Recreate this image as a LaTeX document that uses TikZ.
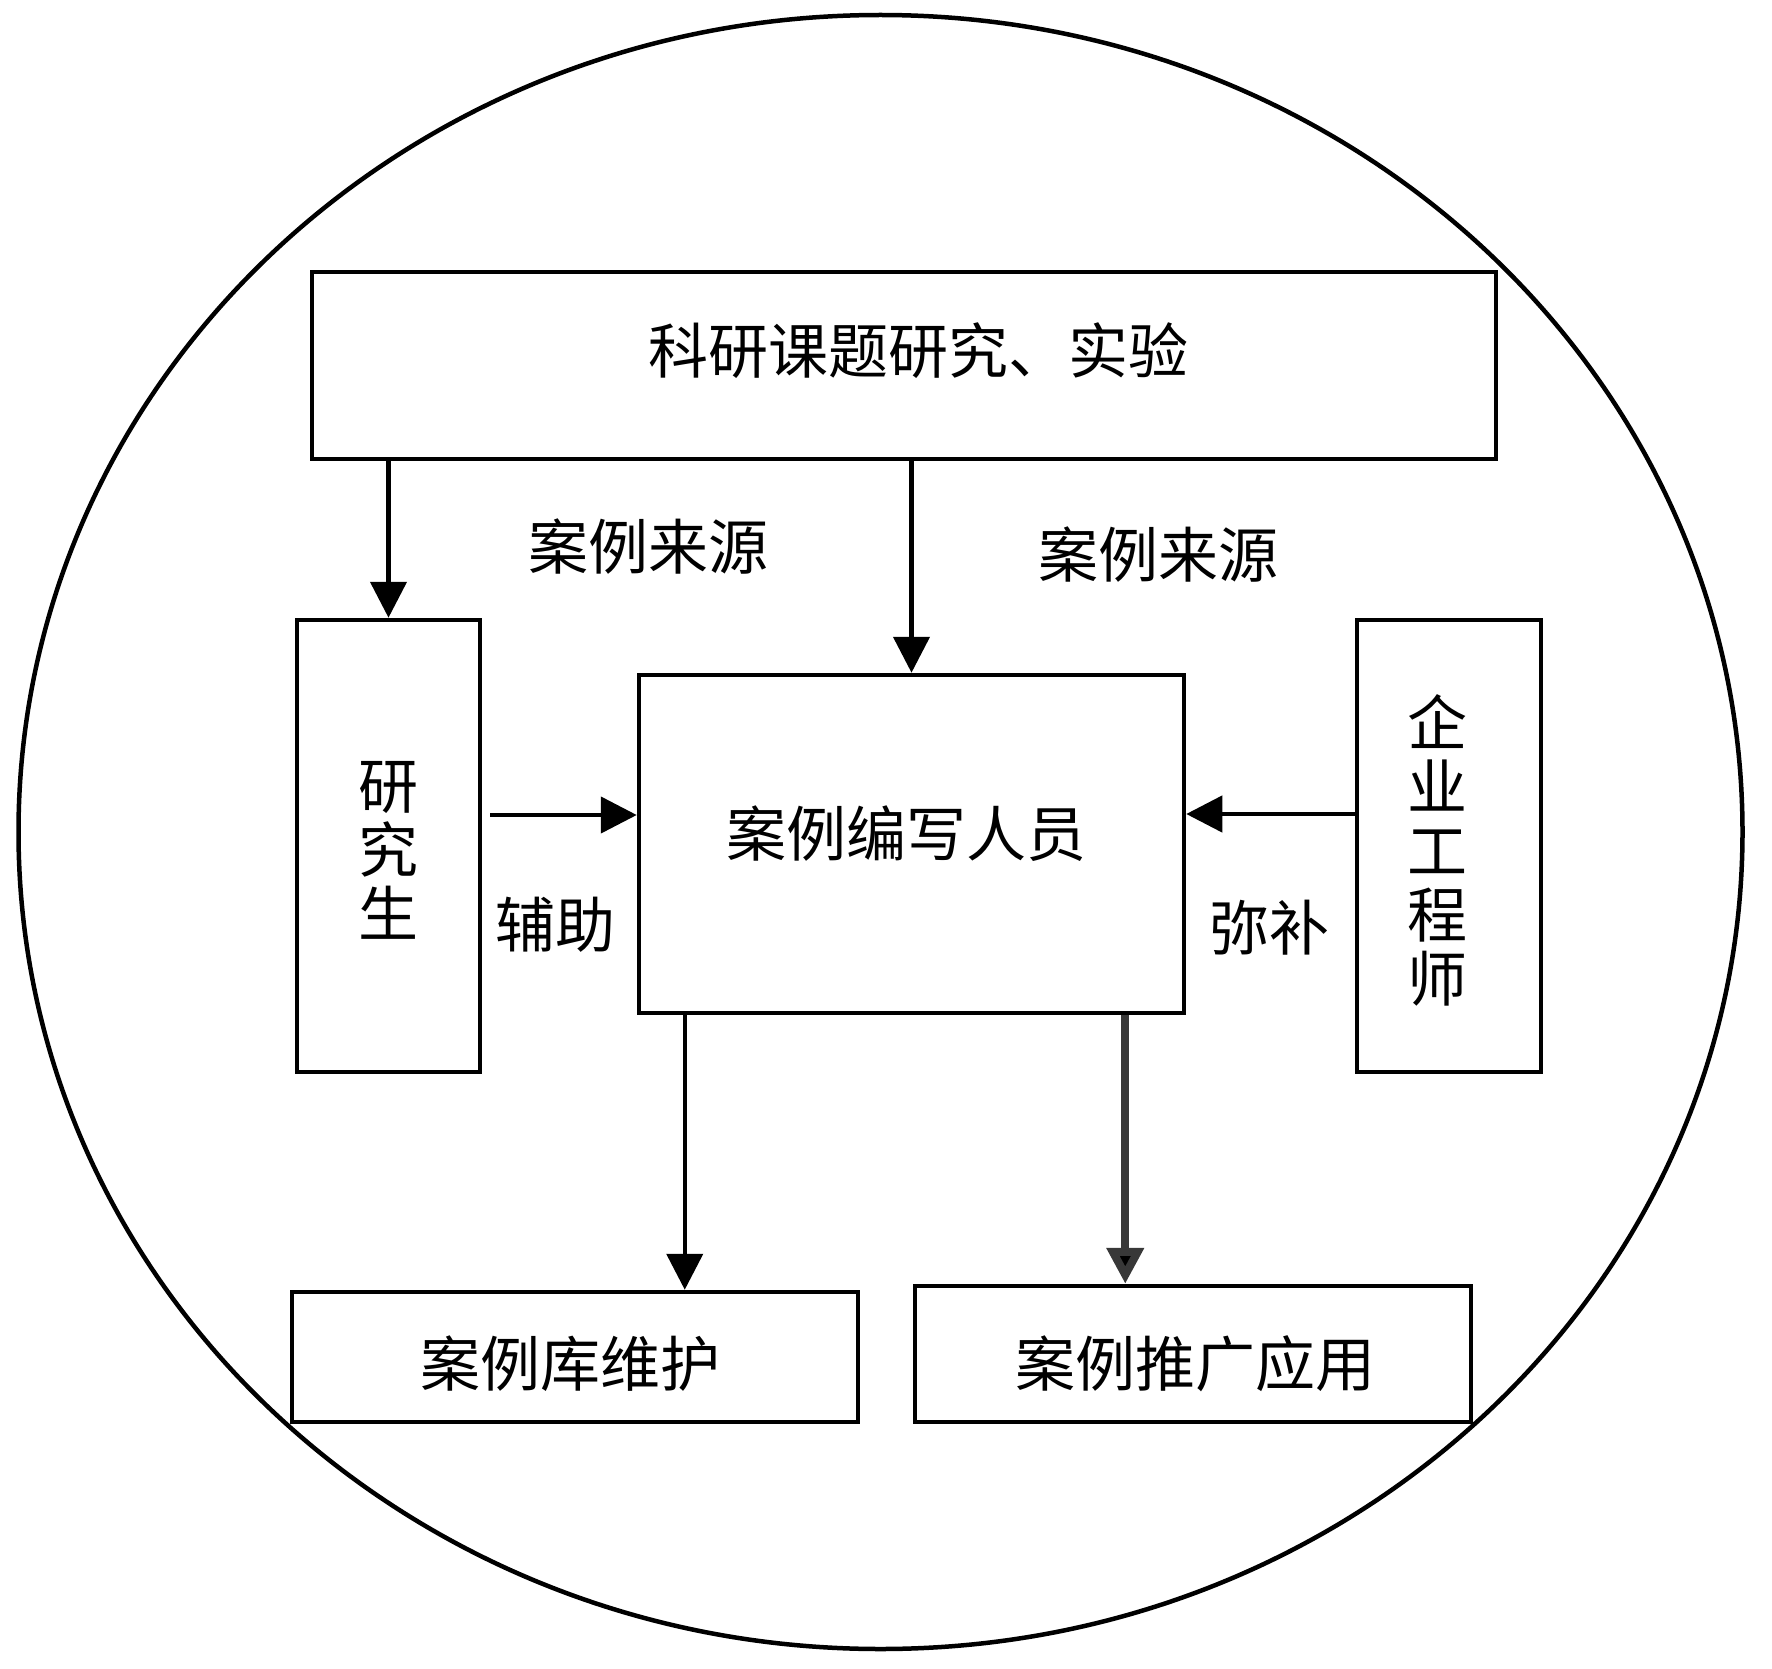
\documentclass[tikz,border=0pt]{standalone}
\usepackage{fontspec}
\newfontfamily\cjk{Noto Sans CJK SC}
\usetikzlibrary{arrows.meta}
\begin{document}
\begin{tikzpicture}[x=1pt,y=-1pt,
  box/.style={draw, line width=4.5pt, inner sep=0pt},
  txt/.style={inner sep=0pt, align=center, font=\cjk\fontsize{60}{64}\selectfont},
  arr/.style={line width=4.5pt, -{Triangle[width=36pt,length=36pt]}},
  thickarr/.style={line width=8pt, draw=black!78, -{Triangle[width=36pt,length=36pt,fill=black]}},
]
\useasboundingbox (0,0) rectangle (1772,1669);
\draw[line width=4.5pt] (880.5,832) ellipse [x radius=862, y radius=817];

\node[box, minimum width=1184pt, minimum height=187pt] (top) at (904,365.5) {};
\node[box, minimum width=183pt, minimum height=452pt] (gs) at (388.5,846) {};
\node[box, minimum width=545pt, minimum height=338pt] (mid) at (911.5,844) {};
\node[box, minimum width=184pt, minimum height=452pt] (eng) at (1449,846) {};
\node[box, minimum width=566pt, minimum height=130pt] (bl) at (575,1357) {};
\node[box, minimum width=556pt, minimum height=136pt] (br) at (1193,1354) {};

\node[txt] (topt) at (918,351) {科研课题研究、实验};
\node[txt] (gst) at (388,850) {研\\究\\生};
\node[txt] (midt) at (906,834) {案例编写人员};
\node[txt] (engt) at (1437,850) {企\\业\\工\\程\\师};
\node[txt] (blt) at (570,1364) {案例库维护};
\node[txt] (brt) at (1195,1364) {案例推广应用};

\node[txt] (l1) at (648,547) {案例来源};
\node[txt] (l2) at (1158,555) {案例来源};
\node[txt] (l3) at (555,925) {辅助};
\node[txt] (l4) at (1269,928) {弥补};

\draw[arr] (top.south -| gs.north) -- (gs.north);
\draw[arr] (top.south -| mid.north) -- (mid.north);
\coordinate (a1) at ([xshift=8pt,yshift=31pt]gs.east);
\draw[arr] (a1) -- (a1 -| mid.west);
\coordinate (a2) at ([yshift=32pt]eng.west);
\draw[arr] (a2) -- (a2 -| mid.east);
\coordinate (a3) at ([xshift=48pt]mid.south west);
\draw[arr] (a3) -- (a3 |- bl.north);
\coordinate (a4) at ([xshift=-61pt]mid.south east);
\draw[thickarr] (a4) -- (a4 |- br.north);
\end{tikzpicture}
\end{document}
